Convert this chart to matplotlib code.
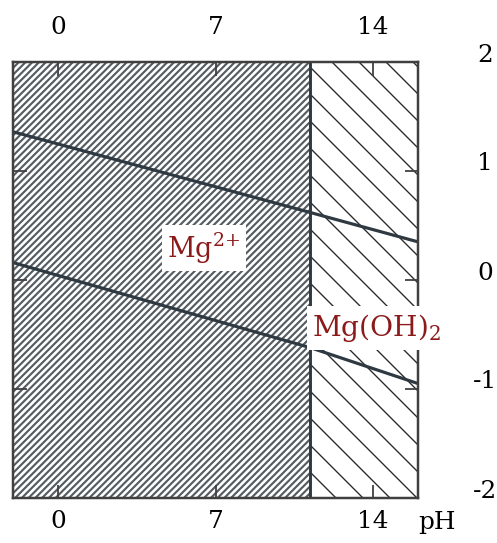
import matplotlib
matplotlib.use("Agg")
import matplotlib.pyplot as plt
import matplotlib.patches as mpatches
import numpy as np

# ── data (pH, potential E / V) ────────────────────────────────────────────────
ph_range = [-2, 16]
e_range = [-2, 2]
ph_boundary = 11.2            # Mg2+ / Mg(OH)2 boundary

# water stability lines
line_ph = [-2, 11.2, 16]
o2_line_e = [1.36, 0.62, 0.35]
h2_line_e = [0.16, -0.62, -0.95]

ph_ticks = [0, 7, 14]
ph_tick_labels = ["0", "7", "14"]
e_ticks = [2, 1, 0, -1, -2]
e_tick_labels = ["2", "1", "0", "-1", "-2"]

DPI = 162
DARK = "#2e3942"
RED = "#8b1a1a"

plt.rcParams["font.family"] = ["DejaVu Serif"]
plt.rcParams["mathtext.fontset"] = "dejavuserif"

fig = plt.figure(figsize=(497 / DPI, 543 / DPI), dpi=DPI)
fig.patch.set_facecolor("white")
ax = fig.add_axes([13 / 497, 1 - 498 / 543, 405 / 497, 436 / 543])
ax.set_xlim(*ph_range)
ax.set_ylim(*e_range)


def hatched(x0, x1, hatch, lw, color):
    with plt.rc_context({"hatch.linewidth": lw, "hatch.color": color}):
        p = mpatches.Rectangle((x0, e_range[0]), x1 - x0, e_range[1] - e_range[0],
                               facecolor="white", edgecolor=color, linewidth=0,
                               hatch=hatch, zorder=1)
        if hasattr(p, "set_hatch_linewidth"):
            p.set_hatch_linewidth(lw)
        ax.add_patch(p)


# Mg2+ (dense) and Mg(OH)2 (sparse) regions
hatched(ph_range[0], ph_boundary, "/" * 8, 0.95, "#545c62")
hatched(ph_boundary, ph_range[1], "\\" * 2, 0.6, "#2a2a2a")

ax.axvline(ph_boundary, color=DARK, lw=1.3, zorder=3)
ax.plot(line_ph, o2_line_e, color=DARK, lw=1.4, zorder=3)
ax.plot(line_ph, h2_line_e, color=DARK, lw=1.4, zorder=3)

for s in ax.spines.values():
    s.set_linewidth(1.1)
    s.set_color("#404040")
    s.set_zorder(4)

# inward ticks, labels drawn as text
ax.set_xticks(ph_ticks)
ax.set_yticks(e_ticks)
ax.tick_params(direction="in", length=6, width=0.8, color="#404040",
               top=True, right=True, labelbottom=False, labelleft=False)

for v, lab in zip(ph_ticks, ph_tick_labels):
    ax.annotate(lab, xy=(v, 1), xycoords=("data", "axes fraction"),
                xytext=(0, 34), textcoords="offset pixels",
                ha="center", va="center", fontsize=11)
    ax.annotate(lab, xy=(v, 0), xycoords=("data", "axes fraction"),
                xytext=(0, -24), textcoords="offset pixels",
                ha="center", va="center", fontsize=11)
ax.annotate("pH", xy=(1, 0), xycoords="axes fraction",
            xytext=(19, -24), textcoords="offset pixels",
            ha="center", va="center", fontsize=11)

for v, lab in zip(e_ticks, e_tick_labels):
    ax.annotate(lab, xy=(1, v), xycoords=("axes fraction", "data"),
                xytext=(67, 7), textcoords="offset pixels",
                ha="center", va="center", fontsize=11)

box = dict(boxstyle="square,pad=0.2", facecolor="white", edgecolor="none")
ax.text(6.5, 0.29, "Mg$^{2\\!+}$", color=RED, fontsize=12,
        ha="center", va="center", bbox=box, zorder=5)
ax.text(11.3, -0.44, "Mg(OH)$_2$", color=RED, fontsize=12.5,
        ha="left", va="center", bbox=box, zorder=5, clip_on=False)

fig.savefig("out.png", dpi=DPI, facecolor="white")
plt.close(fig)
